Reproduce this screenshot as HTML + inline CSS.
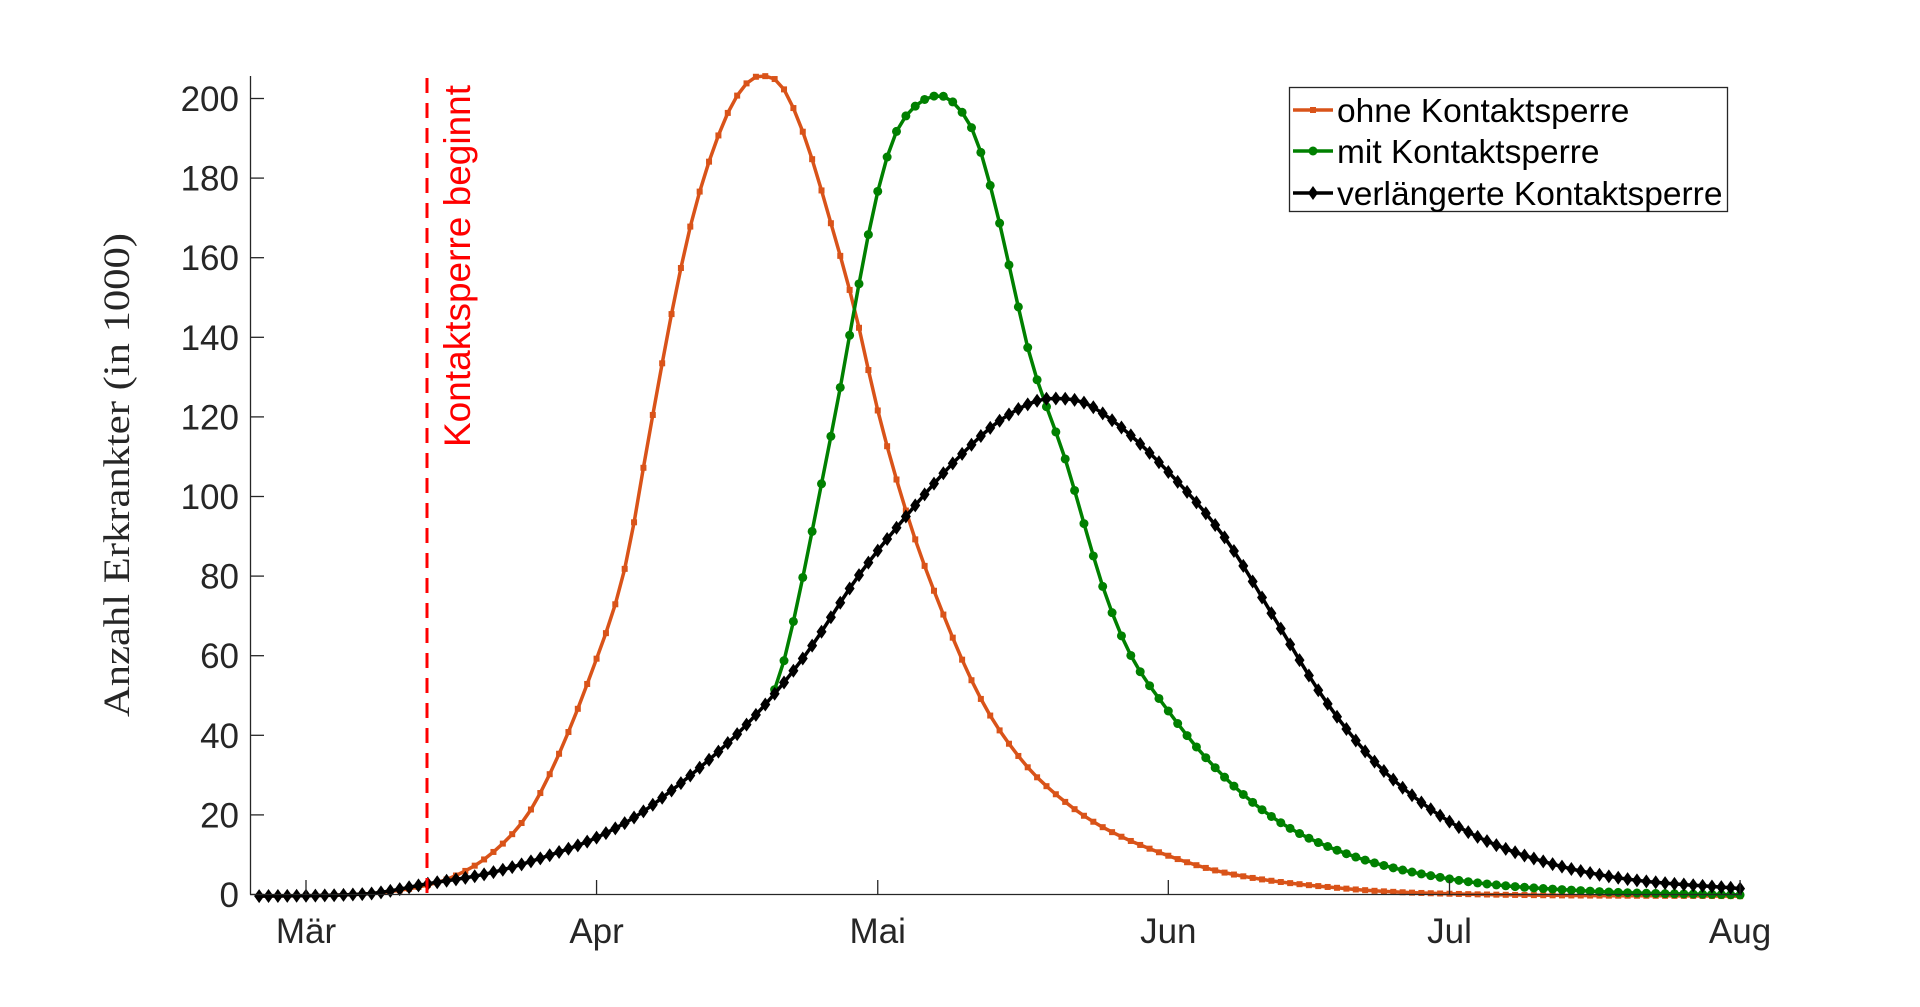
<!DOCTYPE html>
<html><head><meta charset="utf-8">
<style>html,body{margin:0;padding:0;background:#fff;}svg{display:block}</style>
</head><body>
<svg id="s" width="1920" height="1007" xmlns="http://www.w3.org/2000/svg">
<rect width="1920" height="1007" fill="#fff"/>
<g id="plot"></g>
<g id="axes" stroke="#262626" stroke-width="1.3" fill="none">
<line x1="250.5" y1="76" x2="250.5" y2="894.5"/>
<line x1="250" y1="894.5" x2="1742" y2="894.5"/>
</g>
<g id="ticks" stroke="#262626" stroke-width="1.3"></g>
<g id="ylab" font-family="Liberation Sans, sans-serif" font-size="35" fill="#262626" text-anchor="end"></g>
<g id="xlab" font-family="Liberation Sans, sans-serif" font-size="35" fill="#262626" text-anchor="middle"></g>
<line x1="427" y1="78" x2="427" y2="894" stroke="#ff0000" stroke-width="3" stroke-dasharray="15,10"/>
<text transform="translate(470,447) rotate(-90)" font-family="Liberation Sans, sans-serif" font-size="37" fill="#ff0000">Kontaktsperre beginnt</text>
<text transform="translate(129,475) rotate(-90)" font-family="Liberation Serif, serif" font-size="37" fill="#262626" text-anchor="middle" textLength="484" lengthAdjust="spacingAndGlyphs">Anzahl Erkrankter (in 1000)</text>
<g id="legend">
<rect x="1289.5" y="87.5" width="438" height="124" fill="#fff" stroke="#262626" stroke-width="1.3"/>
<line x1="1293" y1="110" x2="1333" y2="110" stroke="#D95319" stroke-width="3.5"/>
<rect x="1310" y="107" width="6" height="6" fill="#D95319"/>
<line x1="1293" y1="151" x2="1333" y2="151" stroke="#008000" stroke-width="3.5"/>
<circle cx="1313" cy="151" r="4.5" fill="#008000"/>
<line x1="1293" y1="193" x2="1333" y2="193" stroke="#000" stroke-width="3.5"/>
<polygon points="1313,186 1318,193 1313,200 1308,193" fill="#000"/>
<g font-family="Liberation Sans, sans-serif" font-size="33.5" fill="#000">
<text x="1337" y="122">ohne Kontaktsperre</text>
<text x="1337" y="163">mit Kontaktsperre</text>
<text x="1337" y="205">verlängerte Kontaktsperre</text>
</g>
</g>
</svg>
<script>
const NS="http://www.w3.org/2000/svg";
const S=1.226;
function mono(pts){
  pts=pts.map(p=>[p[0]*S,p[1]*S]);
  const n=pts.length,xs=pts.map(p=>p[0]),ys=pts.map(p=>p[1]);
  const d=[],m=[];
  for(let i=0;i<n-1;i++)d.push((ys[i+1]-ys[i])/(xs[i+1]-xs[i]));
  m[0]=d[0];m[n-1]=d[n-2];
  for(let i=1;i<n-1;i++){ if(d[i-1]*d[i]<=0)m[i]=0; else m[i]=(d[i-1]+d[i])/2;}
  for(let i=0;i<n-1;i++){ if(d[i]===0){m[i]=0;m[i+1]=0;continue;}
    const a=m[i]/d[i],b=m[i+1]/d[i];const s=a*a+b*b;
    if(s>9){const t=3/Math.sqrt(s);m[i]=t*a*d[i];m[i+1]=t*b*d[i];}}
  return x=>{
    if(x<=xs[0])return ys[0]; if(x>=xs[n-1])return ys[n-1];
    let i=0;while(xs[i+1]<x)i++;
    const h=xs[i+1]-xs[i],t=(x-xs[i])/h,t2=t*t,t3=t2*t;
    return (2*t3-3*t2+1)*ys[i]+(t3-2*t2+t)*h*m[i]+(-2*t3+3*t2)*ys[i+1]+(t3-t2)*h*m[i+1];
  };
}
const orange=[[205,731],[300,729],[348,722],[370,715],[400,697],[430,665],[450,628],[480,555],[510,462],[530,352],[547,260],[563,185],[580,127],[600,80],[620,62],[635,67],[655,108],[680,190],[697,252],[716,335],[740,420],[765,490],[800,570],[835,622],[870,655],[900,675],[953,698],[1000,712],[1100,725],[1183,729],[1422,731]];
const black=[[205,731],[300,729],[348,721],[400,712],[450,697],[487,683],[520,665],[560,635],[600,600],[630,568],[660,530],[700,470],[740,420],[780,375],[820,340],[858,325],[880,327],[910,345],[953,385],[1000,440],[1040,505],[1080,570],[1120,620],[1160,655],[1200,680],[1260,703],[1320,716],[1422,725]];
const green=[[630,568],[640,537],[655,470],[670,395],[685,318],[700,235],[715,160],[730,110],[745,88],[766,78],[780,86],[795,110],[810,160],[825,225],[840,290],[870,378],[885,430],[900,480],[920,530],[953,580],[990,625],[1040,668],[1100,697],[1183,717],[1300,727],[1422,730]];
const fo=mono(orange),fb=mono(black),fg=mono(green);
const g=document.getElementById('plot');
const x0=306,dx=9.373;
function series(f,color,xs,marker){
  let d='';xs.forEach((x,i)=>{d+=(i?'L':'M')+x.toFixed(1)+' '+f(x).toFixed(1);});
  const p=document.createElementNS(NS,'path');p.setAttribute('d',d);p.setAttribute('fill','none');
  p.setAttribute('stroke',color);p.setAttribute('stroke-width','3.5');p.setAttribute('stroke-linejoin','round');g.appendChild(p);
  xs.forEach(x=>{const y=f(x);let e;
    if(marker==='s'){e=document.createElementNS(NS,'rect');e.setAttribute('x',x-3);e.setAttribute('y',y-3);e.setAttribute('width',6);e.setAttribute('height',6);}
    else if(marker==='o'){e=document.createElementNS(NS,'circle');e.setAttribute('cx',x);e.setAttribute('cy',y);e.setAttribute('r',4.5);}
    else {e=document.createElementNS(NS,'polygon');e.setAttribute('points',`${x},${y-7} ${x+5},${y} ${x},${y+7} ${x-5},${y}`);}
    e.setAttribute('fill',color);g.appendChild(e);});
}
const all=[];for(let dd=-6;dd<=153;dd++){const x=x0+dx*dd; if(x>=251&&x<=1741)all.push(x);}
const gx=all.filter(x=>x>=630*S-1);
series(fo,'#D95319',all,'s');
series(fg,'#008000',gx,'o');
series(fb,'#000000',all,'d');
const tk=document.getElementById('ticks'),yl=document.getElementById('ylab'),xl=document.getElementById('xlab');
for(let v=0;v<=200;v+=20){const y=894.5-v*3.98;
  const l=document.createElementNS(NS,'line');l.setAttribute('x1',250);l.setAttribute('x2',264);l.setAttribute('y1',y);l.setAttribute('y2',y);tk.appendChild(l);
  const t=document.createElementNS(NS,'text');t.setAttribute('x',239);t.setAttribute('y',y+12.5);t.textContent=v;yl.appendChild(t);}
[['Mär',0],['Apr',31],['Mai',61],['Jun',92],['Jul',122],['Aug',153]].forEach(([n,dd])=>{const x=x0+dx*dd;
  const l=document.createElementNS(NS,'line');l.setAttribute('x1',x);l.setAttribute('x2',x);l.setAttribute('y1',894);l.setAttribute('y2',880);tk.appendChild(l);
  const t=document.createElementNS(NS,'text');t.setAttribute('x',x);t.setAttribute('y',943);t.textContent=n;xl.appendChild(t);});
</script>
</body></html>
